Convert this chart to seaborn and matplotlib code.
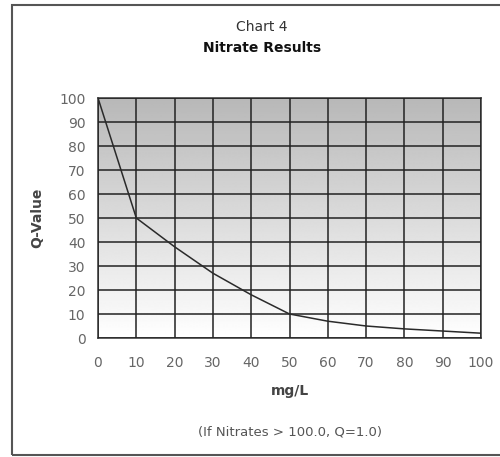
import numpy as np
import pandas as pd
import matplotlib
matplotlib.use("Agg")
import matplotlib.pyplot as plt
import seaborn as sns
from matplotlib.patches import Rectangle

# Data
mg_per_l = [0, 10, 20, 30, 40, 50, 60, 70, 80, 90, 100]
q_value = [100, 50, 38, 27, 18, 10, 7, 5, 3.8, 2.9, 2]
x_ticks = [0, 10, 20, 30, 40, 50, 60, 70, 80, 90, 100]
y_ticks = [0, 10, 20, 30, 40, 50, 60, 70, 80, 90, 100]

df = pd.DataFrame({"mg/L": mg_per_l, "Q-Value": q_value})

sns.set_style("white")
plt.rcParams['font.family'] = ['DejaVu Sans']

fig = plt.figure(figsize=(5.0, 4.57), dpi=100)
W, H = 500, 457
ax = fig.add_axes([98 / W, 1 - 338 / H, (481 - 98) / W, (338 - 98) / H])

# gradient background (dark at top, white at bottom)
grad = np.linspace(0.72, 1.0, 256).reshape(-1, 1)
ax.imshow(grad, cmap="gray", vmin=0, vmax=1, aspect="auto", origin="upper",
          extent=[0, 100, 0, 100], zorder=0, interpolation="bilinear")

sns.lineplot(data=df, x="mg/L", y="Q-Value", ax=ax, color="#2a2a2a",
             linewidth=1.1, zorder=3)

ax.set_xlim(0, 100)
ax.set_ylim(0, 100)
ax.set_xticks(x_ticks)
ax.set_yticks(y_ticks)
ax.grid(True, color="#222222", linewidth=1.1, zorder=2)
ax.set_axisbelow(False)
for s in ax.spines.values():
    s.set_color("#333333")
    s.set_linewidth(1.1)

ax.tick_params(axis="both", direction="out", length=5, width=1, color="#333333",
               labelsize=10, labelcolor="#666666", pad=4)
ax.tick_params(axis="x", pad=8)

ax.set_xlabel("mg/L", fontsize=10, fontweight="bold", color="#444444", labelpad=10)
ax.set_ylabel("Q-Value", fontsize=10, fontweight="bold", color="#444444", labelpad=11)

fig.text(262 / W, 1 - 27 / H, "Chart 4", ha="center", va="center",
         fontsize=10, color="#333333")
fig.text(262 / W, 1 - 48 / H, "Nitrate Results", ha="center", va="center",
         fontsize=10, fontweight="bold", color="#111111")
fig.text(290 / W, 1 - 432 / H, "(If Nitrates > 100.0, Q=1.0)",
         ha="center", va="center", fontsize=9.5, color="#555555")

# figure frame
fig.patches.append(Rectangle((11.5 / W, 2.5 / H), 1.2, 1 - 7 / H,
                             transform=fig.transFigure, fill=False,
                             edgecolor="#555555", linewidth=1.5))

fig.savefig("out.png", dpi=100)
